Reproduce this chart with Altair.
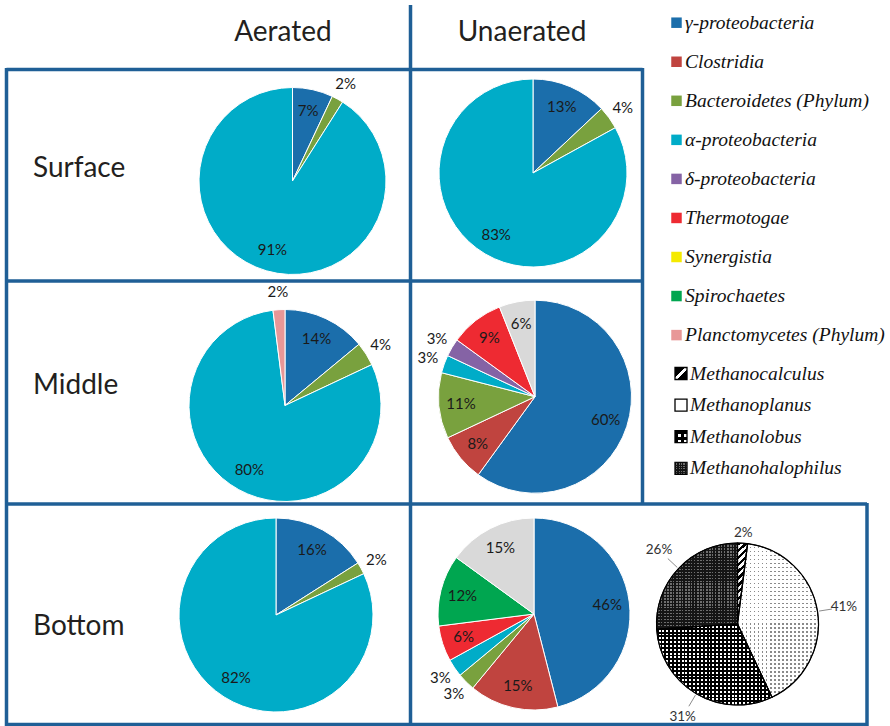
import math
import altair as alt
import pandas as pd

# ---------------- data ----------------
GAMMA = "γ-proteobacteria"
CLOS = "Clostridia"
BACT = "Bacteroidetes (Phylum)"
ALPHA = "α-proteobacteria"
DELTA = "δ-proteobacteria"
THERMO = "Thermotogae"
SYN = "Synergistia"
SPIRO = "Spirochaetes"
PLANC = "Planctomycetes (Phylum)"
OTHER = "Other"

legend_cats = [GAMMA, CLOS, BACT, ALPHA, DELTA, THERMO, SYN, SPIRO, PLANC]
legend_colors = ["#1b6eab", "#c0443f", "#79a13e", "#00acc8", "#8563a5",
                 "#ee2a32", "#f5ea00", "#00a650", "#e89797"]
other_color = "#d9d9d9"

meth_cats = ["Methanocalculus", "Methanoplanus", "Methanolobus", "Methanohalophilus"]
meth_vals = [2, 41, 31, 26]

columns = ["Aerated", "Unaerated"]
rows = ["Surface", "Middle", "Bottom"]

aer_surf_cats = [GAMMA, BACT, ALPHA]
aer_surf_vals = [7, 2, 91]
una_surf_cats = [GAMMA, BACT, ALPHA]
una_surf_vals = [13, 4, 83]
aer_mid_cats = [GAMMA, BACT, ALPHA, PLANC]
aer_mid_vals = [14, 4, 80, 2]
una_mid_cats = [GAMMA, CLOS, BACT, ALPHA, DELTA, THERMO, OTHER]
una_mid_vals = [60, 8, 11, 3, 3, 9, 6]
aer_bot_cats = [GAMMA, BACT, ALPHA]
aer_bot_vals = [16, 2, 82]
una_bot_cats = [GAMMA, CLOS, BACT, ALPHA, THERMO, SPIRO, OTHER]
una_bot_vals = [46, 15, 3, 3, 6, 12, 15]

# ---------------- styles ----------------
BORDER = "#1f5f96"
FONT = "Lato"
SERIF = "'Liberation Serif', 'Times New Roman', serif"
TXT = "#231f20"

color_scale = alt.Scale(domain=legend_cats + [OTHER], range=legend_colors + [other_color])
theta_scale = alt.Scale(domain=[0, 100], range=[0, 2 * math.pi])


def pie_base(cats, vals, r, big_f, small_f, thresh):
    df = pd.DataFrame({"cat": cats, "val": vals, "ord": list(range(len(cats)))})
    return alt.Chart(df).transform_window(
        cum="sum(val)", sort=[alt.SortField("ord", order="ascending")], frame=[None, 0]
    ).transform_calculate(
        start="datum.cum - datum.val",
        mid="datum.cum - datum.val / 2",
        lr=f"datum.val >= {thresh} ? {r * big_f} : {r * small_f}",
        label="datum.val + '%'",
    )


def pie_layers(cats, vals, cx, cy, r):
    base = pie_base(cats, vals, r, 0.77, 1.18, 5)
    arcs = base.mark_arc(radius=r, stroke="white", strokeWidth=1).encode(
        x=alt.value(cx), y=alt.value(cy),
        theta=alt.Theta("start:Q", scale=theta_scale), theta2="cum:Q",
        color=alt.Color("cat:N", scale=color_scale, legend=None),
    )
    text = base.mark_text(font=FONT, fontSize=15, color="#1a1a1a").encode(
        x=alt.value(cx), y=alt.value(cy),
        theta=alt.Theta("mid:Q", scale=theta_scale),
        radius=alt.Radius("lr:Q", scale=None),
        text="label:N",
    )
    return [arcs, text]


def stripes(n, c_line, c_bg, frac, x2, y2):
    stops = []
    for i in range(n):
        a = round(i / n, 5)
        b = round((i + frac) / n, 5)
        c = round((i + 1) / n, 5)
        stops += [{"offset": a, "color": c_line}, {"offset": b, "color": c_line},
                  {"offset": b, "color": c_bg}, {"offset": c, "color": c_bg}]
    return {"gradient": "linear", "x1": 0, "y1": 0, "x2": x2, "y2": y2, "stops": stops}


CLEAR = "rgba(255,255,255,0)"

# pattern fills for the methanogen slices: (base fill, overlay fill or None)
meth_fills = {
    "Methanocalculus": (stripes(12, "#000000", "#ffffff", 0.5, 0.12, 1), None),
    "Methanoplanus": (stripes(20, "#8a8a8a", "#ffffff", 0.4, 1, 0),
                      stripes(38, "#ffffff", CLEAR, 0.6, 0, 1)),
    "Methanolobus": (stripes(30, "#000000", "#ffffff", 0.5, 1, 0),
                     stripes(21, "#000000", CLEAR, 0.5, 0, 1)),
    "Methanohalophilus": (stripes(27, "#151515", "#6e6e6e", 0.5, 1, 0),
                          stripes(29, "#151515", CLEAR, 0.5, 0, 1)),
}
diag = {"gradient": "linear", "x1": 0, "y1": 0, "x2": 1, "y2": 1, "stops": [
    {"offset": 0, "color": "#000"}, {"offset": 0.42, "color": "#000"},
    {"offset": 0.42, "color": "#fff"}, {"offset": 0.58, "color": "#fff"},
    {"offset": 0.58, "color": "#000"}, {"offset": 1, "color": "#000"}]}
meth_swatch = {
    "Methanocalculus": (diag, None),
    "Methanoplanus": ("#ffffff", None),
    "Methanolobus": (stripes(2, "#000000", "#ffffff", 0.5, 1, 0),
                     stripes(2, "#000000", CLEAR, 0.5, 0, 1)),
    "Methanohalophilus": (stripes(5, "#151515", "#6e6e6e", 0.5, 1, 0),
                          stripes(5, "#151515", CLEAR, 0.5, 0, 1)),
}

layers = []

# ---------------- pies ----------------
layers += pie_layers(aer_surf_cats, aer_surf_vals, 292.5, 181, 93.5)
layers += pie_layers(una_surf_cats, una_surf_vals, 533, 173, 94)
layers += pie_layers(aer_mid_cats, aer_mid_vals, 285, 405.5, 96)
layers += pie_layers(una_mid_cats, una_mid_vals, 535, 396.7, 96.5)
layers += pie_layers(aer_bot_cats, aer_bot_vals, 276, 615, 97)
layers += pie_layers(una_bot_cats, una_bot_vals, 534, 614, 96)

# methanogen pie with pattern fills
MCX, MCY, MR = 737.5, 624, 81
mbase = pie_base(meth_cats, meth_vals, MR, 1.33, 1.13, 5)
for name in meth_cats:
    base_fill, over_fill = meth_fills[name]
    sl = mbase.transform_filter(f"datum.cat == '{name}'")
    enc = dict(x=alt.value(MCX), y=alt.value(MCY),
               theta=alt.Theta("start:Q", scale=theta_scale), theta2="cum:Q")
    layers.append(sl.mark_arc(radius=MR, fill=base_fill, stroke="#000000", strokeWidth=1).encode(**enc))
    if over_fill is not None:
        layers.append(sl.mark_arc(radius=MR - 0.8, fill=over_fill, strokeWidth=0).encode(**enc))
# outline
layers.append(mbase.mark_arc(radius=MR, filled=False, stroke="#000000", strokeWidth=1.2).encode(
    x=alt.value(MCX), y=alt.value(MCY),
    theta=alt.Theta("start:Q", scale=theta_scale), theta2="cum:Q"))
# leader lines
lead = mbase.transform_filter("datum.val >= 5").transform_calculate(
    lx1=f"{MCX} + {MR * 1.02} * sin(datum.mid / 100 * 2 * PI)",
    ly1=f"{MCY} - {MR * 1.02} * cos(datum.mid / 100 * 2 * PI)",
    lx2=f"{MCX} + {MR * 1.18} * sin(datum.mid / 100 * 2 * PI)",
    ly2=f"{MCY} - {MR * 1.18} * cos(datum.mid / 100 * 2 * PI)",
)
layers.append(lead.mark_rule(color="#8c8c8c", strokeWidth=1).encode(
    x=alt.X("lx1:Q", scale=None), y=alt.Y("ly1:Q", scale=None),
    x2="lx2:Q", y2="ly2:Q"))
layers.append(mbase.mark_text(font=FONT, fontSize=13.5, color="#333333").encode(
    x=alt.value(MCX), y=alt.value(MCY),
    theta=alt.Theta("mid:Q", scale=theta_scale),
    radius=alt.Radius("lr:Q", scale=None),
    text="label:N"))

# ---------------- borders ----------------
seg_df = pd.DataFrame({
    "x": [410.5, 6.5, 642.5, 867, 6.5, 6.5, 6.5, 6.5],
    "x2": [410.5, 6.5, 642.5, 867, 642.5, 642.5, 867, 867],
    "y": [5, 68, 68, 503, 69.5, 281, 504, 724.5],
    "y2": [726, 726, 505, 726, 69.5, 281, 504, 724.5],
})
layers.append(alt.Chart(seg_df).mark_rule(color=BORDER, strokeWidth=3.5).encode(
    x=alt.X("x:Q", scale=None), x2="x2:Q", y=alt.Y("y:Q", scale=None), y2="y2:Q"))

# ---------------- headers / row labels ----------------
col_df = pd.DataFrame({"t": columns, "i": [0, 1]})
layers.append(alt.Chart(col_df).transform_calculate(px="datum.i == 0 ? 283 : 522").mark_text(
    font=FONT, fontSize=28, color=TXT, align="center", baseline="alphabetic").encode(
    x=alt.X("px:Q", scale=None), y=alt.value(41), text="t:N"))
row_df = pd.DataFrame({"t": rows, "i": [0, 1, 2]})
layers.append(alt.Chart(row_df).transform_calculate(
    py="datum.i == 0 ? 177 : (datum.i == 1 ? 394 : 635)").mark_text(
    font=FONT, fontSize=28, color=TXT, align="left", baseline="alphabetic").encode(
    x=alt.value(33), y=alt.Y("py:Q", scale=None), text="t:N"))

# ---------------- legend ----------------
leg_df = pd.DataFrame({"cat": legend_cats, "i": list(range(len(legend_cats)))})
leg_base = alt.Chart(leg_df).transform_calculate(ly="22.7 + datum.i * 39.05")
layers.append(leg_base.mark_square(size=110, opacity=1).encode(
    x=alt.value(676.5), y=alt.Y("ly:Q", scale=None),
    color=alt.Color("cat:N", scale=color_scale, legend=None)))
layers.append(leg_base.mark_text(font=SERIF, fontStyle="italic", fontSize=19.5, color="#111111",
                                 align="left", baseline="middle").encode(
    x=alt.value(685), y=alt.Y("ly:Q", scale=None), text="cat:N"))

mleg_df = pd.DataFrame({"cat": meth_cats, "i": list(range(len(meth_cats)))})
mleg_base = alt.Chart(mleg_df).transform_calculate(ly="373.5 + datum.i * 31.6")
for j, name in enumerate(meth_cats):
    bf, of = meth_swatch[name]
    sw = mleg_base.transform_filter(f"datum.cat == '{name}'").transform_calculate(
        ya="datum.ly - 6", yb="datum.ly + 6")
    layers.append(sw.mark_rect(fill=bf, stroke="#000000", strokeWidth=1.3).encode(
        x=alt.value(675), x2=alt.value(687), y=alt.Y("ya:Q", scale=None), y2="yb:Q"))
    if of is not None:
        layers.append(sw.mark_rect(fill=of, strokeWidth=0).encode(
            x=alt.value(675), x2=alt.value(687), y=alt.Y("ya:Q", scale=None), y2="yb:Q"))
layers.append(mleg_base.mark_text(font=SERIF, fontStyle="italic", fontSize=19.5, color="#111111",
                                  align="left", baseline="middle").encode(
    x=alt.value(690), y=alt.Y("ly:Q", scale=None), text="cat:N"))

chart = alt.layer(*layers).properties(
    width=890, height=726, padding=0, autosize="none", background="white"
).configure_view(stroke=None)

chart.save("out.html", embed_options={"renderer": "svg", "actions": False})
